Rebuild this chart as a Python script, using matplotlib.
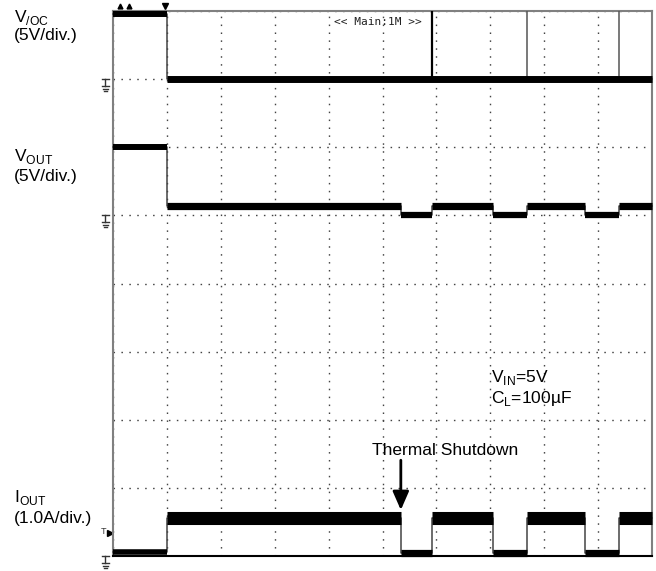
import numpy as np
import matplotlib
matplotlib.use("Agg")
import matplotlib.pyplot as plt

plt.rcParams["font.family"] = ["Liberation Sans", "DejaVu Sans"]
plt.rcParams["mathtext.fontset"] = "custom"
plt.rcParams["mathtext.rm"] = "Liberation Sans"

# time axis in scope divisions (10 div across)
t_vioc = [0.0, 1.0, 10.0]
vioc = [4.8, 0.0]                       # V
t_out = [0.0, 1.0, 5.34, 5.91, 7.05, 7.69, 8.76, 9.39, 10.0]
vout = [5.0, 0.69, 0.02, 0.69, 0.02, 0.69, 0.02, 0.69]   # V
iout = [0.06, 0.56, 0.05, 0.56, 0.05, 0.56, 0.05, 0.56]  # A
spike_t = [5.91, 7.69, 9.39]            # V/OC glitches at restart
shutdown_t = 5.34
trigger_t = 1.0
trigger_level = 0.37                    # A
cursor_t = [0.13, 0.30]

# channel setup: ground position (div) and scale (units/div)
ch = {
    "vioc": dict(gnd=7.0, scale=5.0),
    "vout": dict(gnd=5.0, scale=5.0),
    "iout": dict(gnd=0.0, scale=1.0),
}


def to_div(vals, name):
    c = ch[name]
    return c["gnd"] + np.asarray(vals) / c["scale"]


W, H = 656, 571
fig = plt.figure(figsize=(W / 100, H / 100), dpi=100)
x0, x1, y0, y1 = 113, 652, 10.8, 556.4
ax = fig.add_axes([x0 / W, 1 - y1 / H, (x1 - x0) / W, (y1 - y0) / H])
ax.set_xlim(0, 10)
ax.set_ylim(0, 8)
ax.set_xticks(range(11))
ax.set_yticks(range(9))
ax.tick_params(length=0, labelbottom=False, labelleft=False)
ax.grid(True, color="#444444", lw=1.0, linestyle=(0, (1.1, 4.6)))
for s in ["left", "top", "right"]:
    ax.spines[s].set_color("#808080")
    ax.spines[s].set_linewidth(1.5)
ax.spines["bottom"].set_color("black")
ax.spines["bottom"].set_linewidth(1.5)


def trace(t_edges, vals, name, lw_first, lw_hi, lw_lo=None, thr=None):
    y = to_div(vals, name)
    # thin edges
    ax.step(t_edges, list(y) + [y[-1]], where="post", color="#444444", lw=1.1,
            zorder=3, clip_on=False)
    for i, yy in enumerate(y):
        if i == 0:
            lw = lw_first
        else:
            lw = lw_hi if (thr is None or vals[i] > thr) else lw_lo
        ax.plot([t_edges[i], t_edges[i + 1]], [yy, yy], color="black", lw=lw,
                solid_capstyle="butt", zorder=4, clip_on=False)


trace(t_vioc, vioc, "vioc", 4.3, 5.0)
trace(t_out, vout, "vout", 4.3, 5.2, 4.5, thr=0.3)
trace(t_out, iout, "iout", 4.0, 9.4, 5.2, thr=0.3)

# V/OC glitches
g = ch["vioc"]["gnd"]
for i, t in enumerate(spike_t):
    ax.plot([t, t], [g, 8], color="black" if i == 0 else "#555555",
            lw=1.6 if i == 0 else 1.1, zorder=3)

# thermal shutdown arrow + text
ax.annotate("", xy=(shutdown_t, 0.68), xytext=(shutdown_t, 1.41),
            arrowprops=dict(arrowstyle="-|>,head_width=0.35,head_length=0.8",
                            lw=2, color="black", mutation_scale=14,
                            shrinkA=0, shrinkB=0), zorder=6)
ax.text(6.17, 1.487, "Thermal Shutdown", ha="center", va="baseline",
        fontsize=12.5, zorder=6)
ax.text(7.01, 2.56, r"V$_{\mathregular{IN}}$=5V", va="baseline", fontsize=12.5)
ax.text(7.01, 2.25, r"C$_{\mathregular{L}}$=100µF", va="baseline", fontsize=12.5)
ax.text(4.92, 7.84, "<< Main:1M >>", ha="center", va="center",
        fontsize=8, family="DejaVu Sans Mono", color="#222222")

# ground markers left of the screen
px = 1 / 68.2
for name in ch:
    gg = ch[name]["gnd"]
    xc = -0.14
    kw = dict(color="#333333", lw=1.0, clip_on=False, transform=ax.transData)
    ax.plot([xc - 0.06, xc + 0.06], [gg, gg], **kw)
    ax.plot([xc, xc], [gg, gg - 7 * px], **kw)
    ax.plot([xc - 0.06, xc + 0.06], [gg - 7 * px] * 2, **kw)
    ax.plot([xc - 0.04, xc + 0.04], [gg - 9.5 * px] * 2, **kw)
    ax.plot([xc - 0.02, xc + 0.02], [gg - 12 * px] * 2, **kw)

# trigger level marker
ty = to_div([trigger_level], "iout")[0]
ax.text(-0.17, ty, "T", ha="center", va="center", fontsize=6.5,
        color="#333333", clip_on=False)
ax.plot([-0.06], [ty - 2 * px], marker=">", color="black", ms=5,
        clip_on=False)
# trigger position / cursors on top
ax.plot([trigger_t - 0.03], [8 + 5 * px], marker="v", color="black", ms=4,
        clip_on=False)
ax.plot(cursor_t, [8 + 5 * px] * 2, ls="none", marker="^", color="black",
        ms=3.5, clip_on=False)

# channel labels
lab = dict(fontsize=12.5, va="baseline", ha="left")
fig.text(14 / W, 1 - 22 / H, r"V$_{\mathregular{/OC}}$", **lab)
fig.text(14 / W, 1 - 40 / H, "(5V/div.)", **lab)
fig.text(14 / W, 1 - 161 / H, r"V$_{\mathregular{OUT}}$", **lab)
fig.text(14 / W, 1 - 181 / H, "(5V/div.)", **lab)
fig.text(14 / W, 1 - 502 / H, r"I$_{\mathregular{OUT}}$", **lab)
fig.text(14 / W, 1 - 523 / H, "(1.0A/div.)", **lab)

fig.savefig("out.png", dpi=100)
